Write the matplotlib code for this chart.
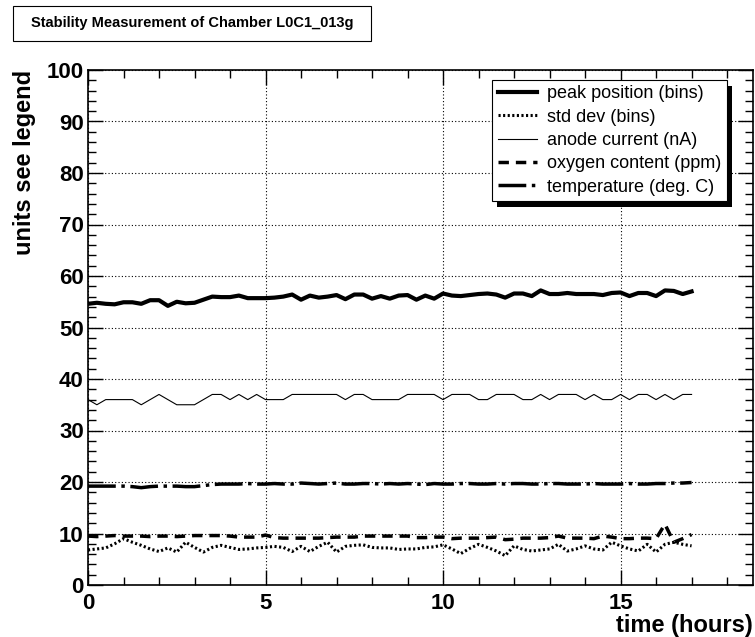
import matplotlib
matplotlib.use("Agg")
import matplotlib.pyplot as plt
import numpy as np
from matplotlib.patches import Rectangle
from matplotlib.ticker import MultipleLocator

plt.rcParams['font.family'] = ['Liberation Sans', 'DejaVu Sans']

# sample times (hours), one reading every 15 minutes
hours = np.arange(69) * 0.25

peak_position = [54.6, 54.8, 54.6, 54.5, 54.9, 54.9, 54.6, 55.3, 55.3, 54.2,
                 55.0, 54.7, 54.8, 55.4, 56.0, 55.9, 55.9, 56.2, 55.7, 55.7,
                 55.7, 55.8, 56.0, 56.4, 55.4, 56.2, 55.8, 56.0, 56.3, 55.5,
                 56.4, 56.4, 55.6, 56.1, 55.6, 56.2, 56.3, 55.4, 56.2, 55.6,
                 56.6, 56.2, 56.1, 56.3, 56.5, 56.6, 56.4, 55.8, 56.6, 56.6,
                 56.1, 57.2, 56.5, 56.5, 56.7, 56.5, 56.5, 56.5, 56.3, 56.7,
                 56.8, 56.1, 56.7, 56.7, 56.1, 57.2, 57.1, 56.5, 57.0]

std_dev = [6.8, 7.0, 7.2, 8.0, 9.0, 8.3, 7.7, 7.0, 6.5, 7.2,
           6.4, 8.3, 7.3, 6.4, 7.3, 7.7, 7.3, 6.9, 7.0, 7.2,
           7.3, 7.5, 7.3, 6.5, 7.5, 6.5, 7.5, 8.3, 6.4, 7.5,
           7.7, 7.8, 7.3, 7.2, 7.2, 6.9, 7.0, 7.0, 7.3, 7.4,
           7.8, 7.0, 6.1, 7.1, 7.9, 7.3, 6.6, 5.7, 7.6, 6.9,
           6.6, 6.8, 7.0, 7.9, 6.6, 7.0, 7.6, 7.0, 6.8, 8.3,
           7.6, 7.0, 6.6, 7.9, 6.4, 7.9, 8.3, 7.9, 7.6]

anode_current = [36, 35, 36, 36, 36, 36, 35, 36, 37, 36,
                 35, 35, 35, 36, 37, 37, 36, 37, 36, 37,
                 36, 36, 36, 37, 37, 37, 37, 37, 37, 36,
                 37, 37, 36, 36, 36, 36, 37, 37, 37, 37,
                 36, 37, 37, 37, 36, 36, 37, 37, 37, 36,
                 36, 37, 36, 37, 37, 37, 36, 37, 36, 36,
                 37, 36, 37, 37, 36, 37, 36, 37, 37]

oxygen = [9.5, 9.4, 9.5, 9.6, 9.5, 9.5, 9.5, 9.4, 9.5, 9.5,
          9.4, 9.5, 9.6, 9.6, 9.6, 9.6, 9.5, 9.3, 9.3, 9.3,
          9.7, 9.2, 9.1, 9.1, 9.1, 9.1, 9.1, 9.2, 9.3, 9.3,
          9.3, 9.5, 9.5, 9.5, 9.5, 9.5, 9.5, 9.2, 9.2, 9.3,
          9.3, 9.0, 9.1, 9.1, 9.1, 9.2, 9.3, 8.8, 8.9, 9.1,
          9.1, 9.1, 9.2, 9.5, 9.1, 9.1, 9.1, 9.0, 9.5, 9.3,
          9.0, 9.0, 9.1, 9.1, 9.0, 11.8, 8.3, 9.0, 9.8]

temperature = [19.2, 19.2, 19.2, 19.2, 19.2, 19.1, 18.9, 19.1, 19.2, 19.2,
               19.2, 19.1, 19.1, 19.3, 19.5, 19.6, 19.6, 19.6, 19.7, 19.6,
               19.6, 19.7, 19.6, 19.6, 19.8, 19.7, 19.6, 19.7, 19.8, 19.6,
               19.6, 19.7, 19.7, 19.6, 19.7, 19.6, 19.7, 19.6, 19.5, 19.7,
               19.6, 19.6, 19.7, 19.7, 19.6, 19.6, 19.7, 19.6, 19.7, 19.7,
               19.6, 19.6, 19.7, 19.7, 19.6, 19.6, 19.6, 19.7, 19.6, 19.6,
               19.6, 19.7, 19.6, 19.6, 19.7, 19.7, 19.8, 19.8, 19.9]

W, H = 755, 637
fig = plt.figure(figsize=(W / 100, H / 100), dpi=100)
ax = fig.add_axes([88 / W, 52 / H, 665 / W, 515 / H])

ax.plot(hours, peak_position, color='black', lw=3.0, solid_joinstyle='round',
        label='peak position (bins)')
ax.plot(hours, std_dev, color='black', lw=2.2, linestyle=(0, (0.7, 0.8)),
        label='std dev (bins)')
ax.plot(hours, anode_current, color='black', lw=0.8, label='anode current (nA)')
ax.plot(hours, oxygen, color='black', lw=2.5, linestyle=(0, (3, 2)),
        label='oxygen content (ppm)')
ax.plot(hours, temperature, color='black', lw=2.5, linestyle=(0, (8, 1.6, 1, 1.6)),
        label='temperature (deg. C)')

ax.set_xlim(0, 18.73)
ax.set_ylim(0, 100)
ax.xaxis.set_major_locator(MultipleLocator(5))
ax.xaxis.set_minor_locator(MultipleLocator(1))
ax.yaxis.set_major_locator(MultipleLocator(10))
ax.yaxis.set_minor_locator(MultipleLocator(2))
ax.tick_params(which='both', direction='in', top=True, right=True, width=1.0)
ax.tick_params(which='major', length=11)
ax.tick_params(which='minor', length=5.5)
ax.tick_params(axis='x', which='major', pad=6)
ax.tick_params(axis='y', which='major', pad=3)
for lab in ax.get_xticklabels() + ax.get_yticklabels():
    lab.set_fontsize(16)
    lab.set_fontweight('bold')
ax.grid(True, which='major', color='black', linestyle=(0, (1, 2)), lw=0.8)
for sp in ax.spines.values():
    sp.set_linewidth(1.2)

ax.set_xlabel('time (hours)', loc='right', fontsize=17, fontweight='bold', labelpad=0)
ax.set_ylabel('units see legend', loc='top', fontsize=17, fontweight='bold', labelpad=8)

leg = ax.legend(loc='upper right', bbox_to_anchor=((727 - 88) / 665, (585 - 80) / 515),
                fontsize=13, frameon=True, fancybox=False, edgecolor='black',
                framealpha=1, handlelength=2.2, handletextpad=0.55, labelspacing=0.35,
                borderpad=0.3, borderaxespad=0)
leg.get_frame().set_linewidth(0.8)

# drop shadow behind the legend box
fig.canvas.draw()
bb = leg.get_window_extent()
ax.add_patch(Rectangle((bb.x0 + 5, bb.y0 - 6), bb.width, bb.height, transform=None,
                       facecolor='black', edgecolor='none', zorder=4.9, clip_on=False))

# title box
fig.patches.append(Rectangle((13 / W, 1 - 41 / H), 358 / W, 35 / H, transform=fig.transFigure,
                             facecolor='white', edgecolor='black', lw=0.8))
fig.text(192 / W, 1 - 23.5 / H, 'Stability Measurement of Chamber L0C1_013g',
         ha='center', va='center', fontsize=10.5, fontweight='bold')

fig.savefig('out.png', dpi=100)
